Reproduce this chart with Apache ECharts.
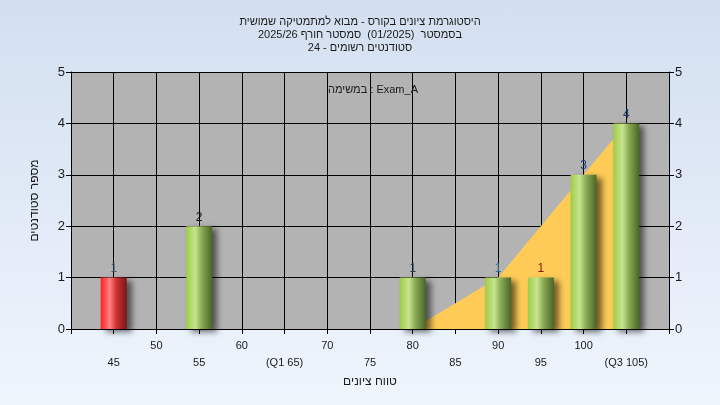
<!DOCTYPE html>
<html>
<head>
<meta charset="utf-8">
<script src="https://cdn.jsdelivr.net/npm/echarts@6/dist/echarts.min.js"></script>
<style>
html,body{margin:0;padding:0;}
#c{width:720px;height:405px;background:linear-gradient(#d3dff0,#eef5fd);}
</style>
</head>
<body>
<div id="c" dir="rtl"></div>
<script>
const titleLines = ['היסטוגרמת ציונים בקורס - מבוא למתמטיקה שמושית', 'בסמסטר  (01/2025)  סמסטר חורף 2025/26', 'סטודנטים רשומים - 24'];
const subjectText = 'Exam_A : במשימה';
const yAxisTitle = 'מספר סטודנטים';
const xAxisTitle = 'טווח ציונים';
const gradeBins = [45, 55, 80, 90, 95, 100, 105];
const studentCounts = [1, 2, 1, 1, 1, 3, 4];
const labelColors = ['#3f5f70', '#111111', '#2a3a4a', '#2f6f8f', '#8a1010', '#1f3a6e', '#1f3a6e'];
const curveX = [80, 90, 100, 105];
const curveY = [0, 1, 3, 4];
const specialTickLabels = {65: '(Q1 65)', 105: '(Q3 105)'};
const passGrade = 50;

const green = {type:'linear',x:0,y:0,x2:1,y2:0,colorStops:[
  {offset:0,color:'#9dcc48'},{offset:0.35,color:'#c9e48e'},{offset:0.6,color:'#8aaa55'},{offset:1,color:'#4a6526'}]};
const red = {type:'linear',x:0,y:0,x2:1,y2:0,colorStops:[
  {offset:0,color:'#ff2020'},{offset:0.35,color:'#ff8080'},{offset:0.6,color:'#d03030'},{offset:1,color:'#7a1515'}]};

const barData = gradeBins.map((g,i)=>({
  value:[g, studentCounts[i]],
  itemStyle:{color: g < passGrade ? red : green},
  label:{color: labelColors[i]}
}));
const curveData = curveX.map((x,i)=>[x, curveY[i]]);

const font = 'Liberation Sans, Arial, sans-serif';
const chart = echarts.init(document.getElementById('c'));
chart.setOption({
  backgroundColor:'transparent',
  animation:false,
  title:[
    {text:titleLines.join('\n'), left:'center', top:10,
     textStyle:{fontSize:11, fontWeight:'normal', color:'#1a1a1a', lineHeight:13, fontFamily:font}},
    {text:subjectText, left:368, top:79, textAlign:'center',
     textStyle:{fontSize:11, fontWeight:'normal', color:'#1a1a1a', fontFamily:font}}
  ],
  grid:{left:71, right:51, top:72, bottom:76, show:true, backgroundColor:'#b3b3b3', borderWidth:0},
  xAxis:{
    type:'value', min:40, max:110, interval:5,
    name:xAxisTitle, nameLocation:'middle', nameGap:46,
    nameTextStyle:{fontSize:12, color:'#1a1a1a', fontFamily:font},
    axisLine:{lineStyle:{color:'#000', width:1}},
    axisTick:{show:true, length:5, lineStyle:{color:'#000'}},
    splitLine:{show:true, lineStyle:{color:'#000', width:1}},
    axisLabel:{fontSize:11, color:'#1a1a1a', fontFamily:font, margin:8, lineHeight:17,
      showMinLabel:true, showMaxLabel:true,
      formatter:function(v){
        if (v <= 40 || v >= 110) return '';
        if (v % 10 === 0) return String(v);
        return '\n' + (specialTickLabels[v] || String(v));
      }}
  },
  yAxis:[
    {type:'value', min:0, max:5, interval:1, position:'left',
     name:yAxisTitle, nameLocation:'middle', nameGap:30,
     nameTextStyle:{fontSize:12, color:'#1a1a1a', fontFamily:font},
     axisLine:{show:true, lineStyle:{color:'#000'}},
     axisTick:{show:true, length:5, lineStyle:{color:'#000'}},
     splitLine:{show:true, lineStyle:{color:'#000', width:1}},
     axisLabel:{fontSize:13, color:'#1a1a1a', fontFamily:font, margin:6}},
    {type:'value', min:0, max:5, interval:1, position:'right',
     axisLine:{show:true, lineStyle:{color:'#000'}},
     axisTick:{show:true, length:5, lineStyle:{color:'#000'}},
     splitLine:{show:false},
     axisLabel:{fontSize:13, color:'#1a1a1a', fontFamily:font, margin:6}}
  ],
  series:[
    {type:'line', data:curveData, symbol:'none', lineStyle:{width:0, opacity:0},
     areaStyle:{color:'#fecb56', opacity:1}, z:1, silent:true},
    {type:'bar', data:barData, barWidth:26, z:3,
     itemStyle:{shadowBlur:6, shadowOffsetX:5, shadowOffsetY:3, shadowColor:'rgba(0,0,0,0.55)'},
     label:{show:true, position:'top', distance:3, fontSize:12, fontFamily:font}}
  ]
});
</script>
</body>
</html>
